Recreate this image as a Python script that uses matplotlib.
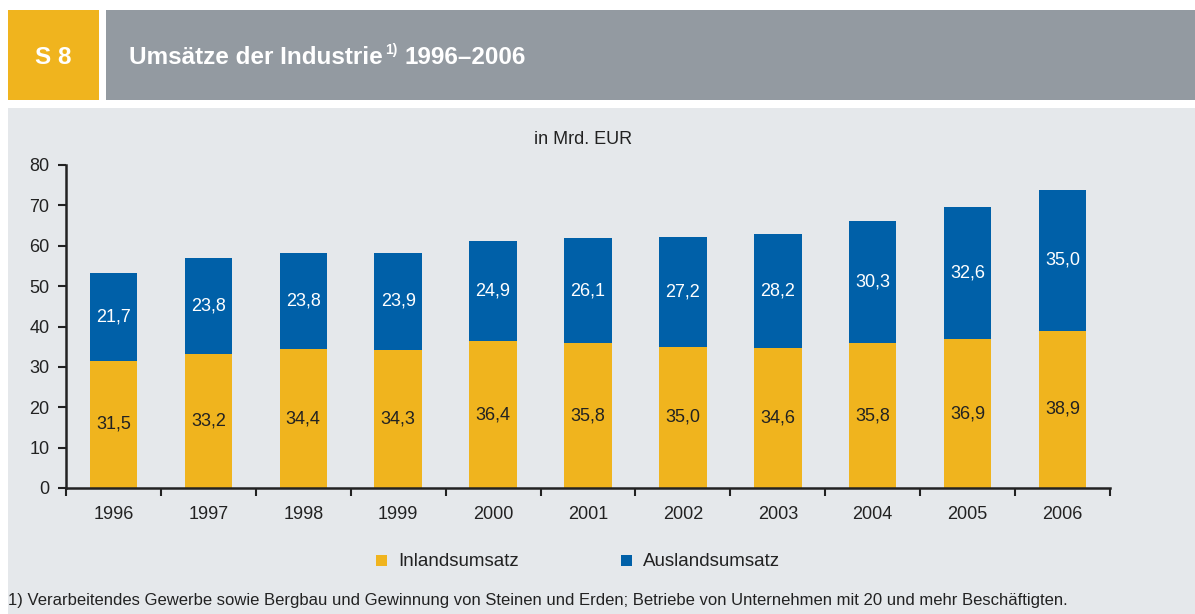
import matplotlib
matplotlib.use('Agg')
from matplotlib import pyplot as plt
from matplotlib.patches import Rectangle
import numpy as np

plt.rcParams['font.family'] = ['Liberation Sans', 'DejaVu Sans']

# Daten (Mrd. EUR)
jahre = ['1996', '1997', '1998', '1999', '2000', '2001', '2002', '2003', '2004', '2005', '2006']
inland = [31.5, 33.2, 34.4, 34.3, 36.4, 35.8, 35.0, 34.6, 35.8, 36.9, 38.9]
ausland = [21.7, 23.8, 23.8, 23.9, 24.9, 26.1, 27.2, 28.2, 30.3, 32.6, 35.0]
y_ticks = [0, 10, 20, 30, 40, 50, 60, 70, 80]

gelb = '#f0b41e'
blau = '#0060a8'
grau = '#939aa1'
hell = '#e5e8eb'
txt = '#222222'

W, H = 1195, 614
fig = plt.figure(figsize=(W / 100, H / 100), dpi=100)
fig.patch.set_facecolor('white')


def px(x, y, w, h):
    # Pixel-Rechteck (oben links) in Figure-Koordinaten
    return (x / W, 1 - (y + h) / H), w / W, h / H


# Kopfzeile + Hintergrund
for (x, y, w, h), c in [((8, 10, 91, 90), gelb), ((106, 10, 1089, 90), grau),
                        ((8, 108, 1187, 506), hell)]:
    xy, ww, hh = px(x, y, w, h)
    fig.patches.append(Rectangle(xy, ww, hh, transform=fig.transFigure,
                                 facecolor=c, edgecolor='none', zorder=-5))

fig.text(53 / W, 1 - 57 / H, 'S 8', color='white', fontsize=17.5, fontweight='bold',
         ha='center', va='center')
fig.text(129 / W, 1 - 57 / H, 'Umsätze der Industrie', color='white',
         fontsize=17.5, fontweight='bold', ha='left', va='center')
fig.text(385 / W, 1 - 50 / H, '1)', color='white', fontsize=10, fontweight='bold',
         ha='left', va='center')
fig.text(405 / W, 1 - 57 / H, '1996–2006', color='white', fontsize=17.5, fontweight='bold',
         ha='left', va='center')

ax = fig.add_axes([66 / W, 1 - 488 / H, (1110 - 66) / W, (488 - 165) / H], zorder=3)
ax.set_facecolor('none')
x = np.arange(len(jahre))
ax.bar(x, inland, width=0.5, color=gelb, zorder=2)
ax.bar(x, ausland, width=0.5, bottom=inland, color=blau, zorder=2)
for i in range(len(jahre)):
    ax.text(x[i], inland[i] / 2, f'{inland[i]:.1f}'.replace('.', ','), ha='center', va='center',
            fontsize=13, color=txt)
    ax.text(x[i], inland[i] + ausland[i] / 2, f'{ausland[i]:.1f}'.replace('.', ','), ha='center',
            va='center', fontsize=13, color='white')

ax.set_xlim(-0.5, len(jahre) - 0.5)
ax.set_ylim(0, 80)
ax.set_yticks(y_ticks)
ax.set_yticklabels([str(v) for v in y_ticks], fontsize=13, color=txt)
ax.set_xticks(np.arange(-0.5, len(jahre), 1.0))
ax.set_xticklabels([])
ax.set_xticks(x, minor=True)
ax.set_xticklabels(jahre, minor=True, fontsize=13, color=txt)
ax.tick_params(axis='x', which='minor', length=0, pad=13)
ax.tick_params(axis='x', which='major', length=6, width=1.5, color=txt)
ax.tick_params(axis='y', length=6, width=1.5, color=txt, pad=6)
for s in ['top', 'right']:
    ax.spines[s].set_visible(False)
for s in ['left', 'bottom']:
    ax.spines[s].set_linewidth(1.8)
    ax.spines[s].set_color(txt)

fig.text(583 / W, 1 - 140 / H, 'in Mrd. EUR', fontsize=13, ha='center', va='center', color=txt)

# Legende
for (lx, c, lab) in [(376, gelb, 'Inlandsumsatz'), (621, blau, 'Auslandsumsatz')]:
    xy, ww, hh = px(lx, 555, 11, 11)
    fig.patches.append(Rectangle(xy, ww, hh, transform=fig.transFigure,
                                 facecolor=c, edgecolor='none'))
    fig.text((lx + 22) / W, 1 - 561 / H, lab, fontsize=13.5, ha='left', va='center', color=txt)

fig.text(8 / W, 1 - 601 / H,
         '1) Verarbeitendes Gewerbe sowie Bergbau und Gewinnung von Steinen und Erden; '
         'Betriebe von Unternehmen mit 20 und mehr Beschäftigten.',
         fontsize=12, ha='left', va='center', color=txt)

fig.savefig('out.png', dpi=100, facecolor=fig.get_facecolor())
